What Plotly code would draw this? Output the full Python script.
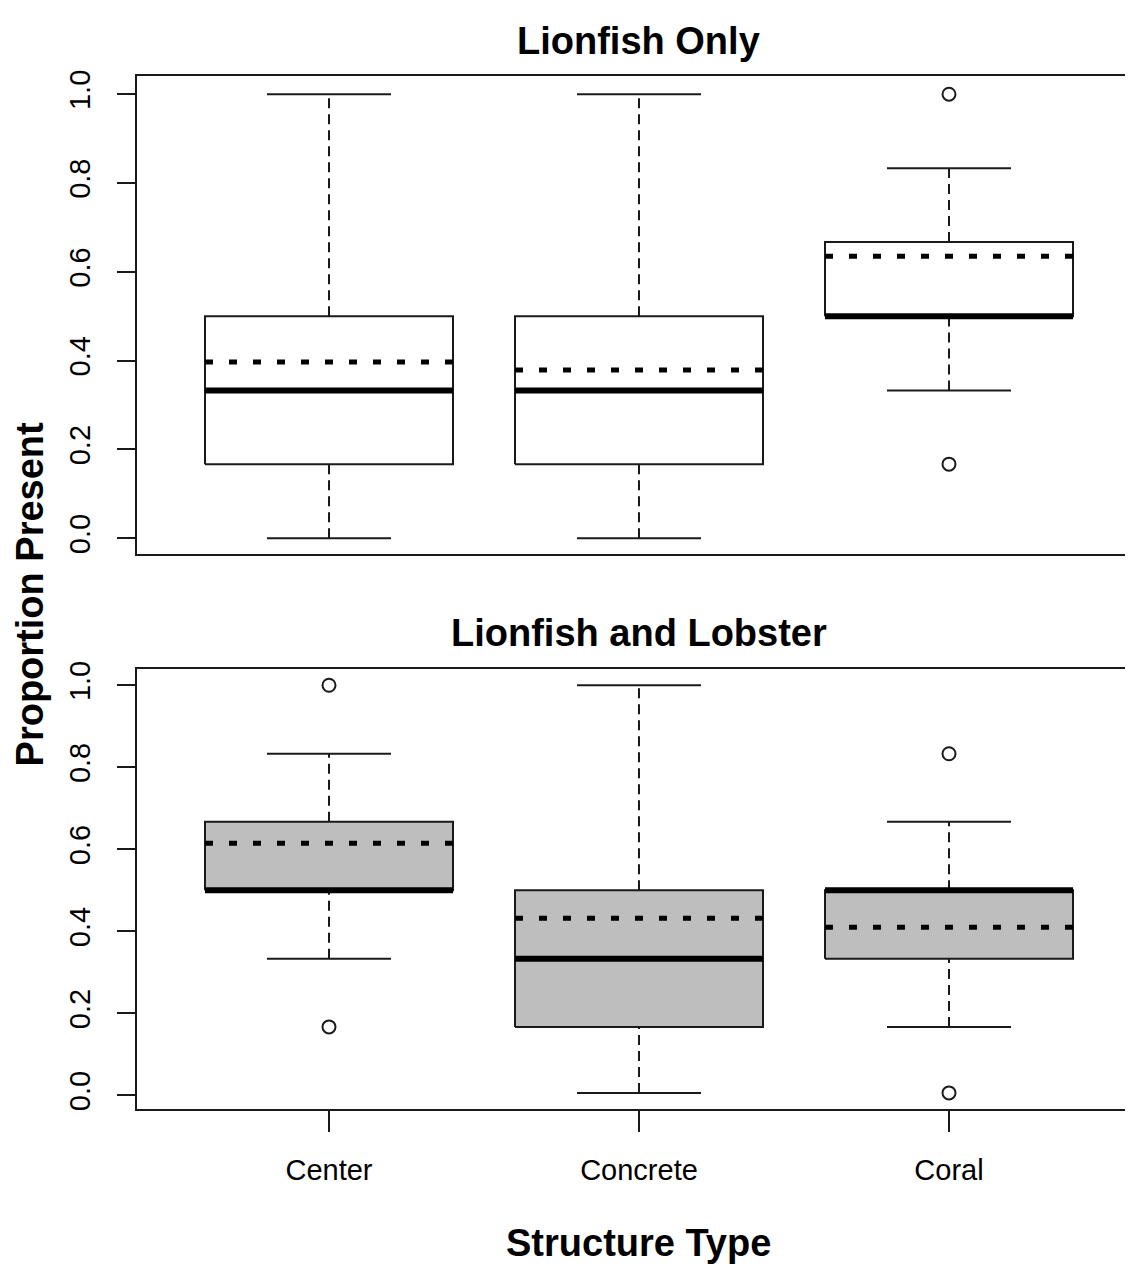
import plotly.graph_objects as go

# ---------------- data ----------------
categories = ["Center", "Concrete", "Coral"]

# Panel 1: Lionfish Only
top_low = [0.0, 0.0, 0.333]
top_q1 = [0.167, 0.167, 0.5]
top_median = [0.333, 0.333, 0.5]
top_q3 = [0.5, 0.5, 0.667]
top_high = [1.0, 1.0, 0.833]
top_mean = [0.397, 0.379, 0.635]
top_outliers = [[], [], [1.0, 0.167]]

# Panel 2: Lionfish and Lobster
bot_low = [0.333, 0.006, 0.167]
bot_q1 = [0.5, 0.167, 0.333]
bot_median = [0.5, 0.333, 0.5]
bot_q3 = [0.667, 0.5, 0.5]
bot_high = [0.833, 1.0, 0.667]
bot_mean = [0.615, 0.432, 0.410]
bot_outliers = [[1.0, 0.167], [], [0.833, 0.006]]

ytick_vals = [0.0, 0.2, 0.4, 0.6, 0.8, 1.0]
ytick_text = ["0.0", "0.2", "0.4", "0.6", "0.8", "1.0"]

titles = ["Lionfish Only", "Lionfish and Lobster"]
ylabel = "Proportion Present"
xlabel = "Structure Type"

# ---------------- figure ----------------
# The page has an 8px body margin; size the figure so it fits the window.
OFF = 8
W, H = 1133 - OFF, 1276 - 2 * OFF
FONT = "Liberation Sans, Arial, sans-serif"
INK = "#1a1a1a"
fig = go.Figure()

BOX_HALF = 0.4
CAP_HALF = 0.2


def add_panel(xa, ya, low, q1, med, q3, high, mean, outl, fill):
    for i, _ in enumerate(categories):
        c = i + 1
        fig.add_trace(go.Scatter(
            x=[c, c, None, c, c], y=[low[i], q1[i], None, q3[i], high[i]],
            mode="lines", line=dict(color=INK, width=2, dash="10px,6px"),
            xaxis=xa, yaxis=ya, showlegend=False, hoverinfo="skip"))
        fig.add_trace(go.Scatter(
            x=[c - CAP_HALF, c + CAP_HALF, None, c - CAP_HALF, c + CAP_HALF],
            y=[low[i], low[i], None, high[i], high[i]],
            mode="lines", line=dict(color=INK, width=2),
            xaxis=xa, yaxis=ya, showlegend=False, hoverinfo="skip"))
        fig.add_trace(go.Scatter(
            x=[c - BOX_HALF, c + BOX_HALF, c + BOX_HALF, c - BOX_HALF, c - BOX_HALF],
            y=[q1[i], q1[i], q3[i], q3[i], q1[i]],
            mode="lines", fill="toself", fillcolor=fill,
            line=dict(color=INK, width=2),
            xaxis=xa, yaxis=ya, showlegend=False, hoverinfo="skip"))
        fig.add_trace(go.Scatter(
            x=[c - BOX_HALF, c + BOX_HALF], y=[med[i], med[i]],
            mode="lines", line=dict(color="black", width=6),
            xaxis=xa, yaxis=ya, showlegend=False, hoverinfo="skip"))
        fig.add_trace(go.Scatter(
            x=[c - BOX_HALF, c + BOX_HALF], y=[mean[i], mean[i]],
            mode="lines", line=dict(color="black", width=5, dash="8px,16px"),
            xaxis=xa, yaxis=ya, showlegend=False, hoverinfo="skip"))
        if outl[i]:
            fig.add_trace(go.Scatter(
                x=[c] * len(outl[i]), y=outl[i], mode="markers",
                marker=dict(symbol="circle-open", size=13,
                            color=INK, line=dict(width=2, color=INK)),
                xaxis=xa, yaxis=ya, showlegend=False, hoverinfo="skip"))


add_panel("x", "y", top_low, top_q1, top_median, top_q3, top_high,
          top_mean, top_outliers, "white")
add_panel("x2", "y2", bot_low, bot_q1, bot_median, bot_q3, bot_high,
          bot_mean, bot_outliers, "#BEBEBE")

# geometry in reference-page pixels
left_px = 136.7
unit_px = 310.0
x0 = 1 - (329 - left_px) / unit_px
x1 = x0 + (1133 - left_px) / unit_px


def px(p):
    return (p - OFF) / W


def py(p):
    return 1 - (p - OFF) / H


xdom = [px(left_px), 1.0]
xcommon = dict(range=[x0, x1], domain=xdom, showgrid=False, zeroline=False,
               showline=True, mirror=True, linecolor=INK, linewidth=2,
               tickvals=[1, 2, 3], ticktext=categories, fixedrange=True)
ycommon = dict(showgrid=False, zeroline=False, showline=True, mirror=False,
               linecolor=INK, linewidth=2, ticks="outside", ticklen=18,
               tickwidth=2, tickcolor=INK, tickangle=-90,
               tickvals=ytick_vals, ticktext=ytick_text,
               tickfont=dict(family=FONT, size=29, color="black"),
               ticklabelstandoff=15)

fig.update_layout(
    width=W, height=H, margin=dict(l=0, r=0, t=0, b=0),
    paper_bgcolor="white", plot_bgcolor="white",
    xaxis=dict(**xcommon, anchor="y", showticklabels=False, ticks=""),
    yaxis=dict(**ycommon, anchor="x", domain=[py(550), py(68)],
               range=[-0.035, 1.040]),
    xaxis2=dict(**xcommon, anchor="y2", showticklabels=True, ticks="outside",
                ticklen=21, tickwidth=2, tickcolor=INK, ticklabelstandoff=14,
                tickfont=dict(family=FONT, size=29, color="black")),
    yaxis2=dict(**ycommon, anchor="x2", domain=[py(1110), py(666.7)],
                range=[-0.032, 1.0386]),
    showlegend=False,
)

center_px = (left_px + (left_px + 3.24 * unit_px)) / 2
cx = px(center_px)
ann_font = dict(family=FONT, size=38, color="black")
fig.add_annotation(text="<b>%s</b>" % titles[0], x=cx, y=py(32), xref="paper",
                   yref="paper", showarrow=False, font=ann_font,
                   xanchor="center", yanchor="middle")
fig.add_annotation(text="<b>%s</b>" % titles[1], x=cx, y=py(630), xref="paper",
                   yref="paper", showarrow=False, font=ann_font,
                   xanchor="center", yanchor="middle")
fig.add_annotation(text="<b>%s</b>" % ylabel, x=px(30), y=py(591), xref="paper",
                   yref="paper", showarrow=False, font=ann_font, textangle=-90,
                   xanchor="center", yanchor="middle")
fig.add_annotation(text="<b>%s</b>" % xlabel, x=cx, y=py(1246), xref="paper",
                   yref="paper", showarrow=False, font=ann_font,
                   xanchor="center", yanchor="middle")

fig.write_html("out.html")
